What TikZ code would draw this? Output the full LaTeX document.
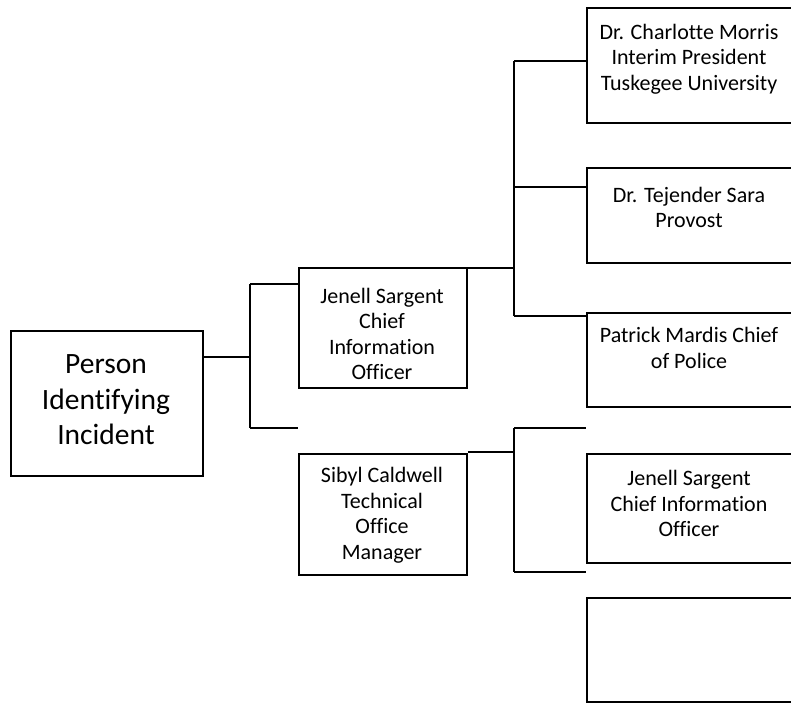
\documentclass[tikz,border=0pt]{standalone}
\usepackage{fontspec}
\setmainfont{Carlito}[Ligatures={NoCommon}]
\begin{document}
\begin{tikzpicture}[x=1pt,y=-1pt,
  box/.style={draw=black,line width=1.8pt,rectangle,inner sep=0pt,anchor=north west},
  txt/.style={align=center,inner sep=0pt,font=\fontsize{22}{25.5}\selectfont},
  bigtxt/.style={align=center,inner sep=0pt,font=\fontsize{29.5}{35.5}\selectfont},
  conn/.style={line width=1.8pt}]
\clip (0,0) rectangle (791,702);
\fill[white] (0,0) rectangle (791,702);
% boxes
\node[box,minimum width=192pt,minimum height=145pt] (P) at (10,330) {};
\node[box,minimum width=168pt,minimum height=120pt] (C) at (298,267) {};
\node[box,minimum width=168pt,minimum height=121pt] (S) at (298,453) {};
\node[box,minimum width=210pt,minimum height=115pt] (R1) at (586,7) {};
\node[box,minimum width=210pt,minimum height=95pt] (R2) at (586,167) {};
\node[box,minimum width=210pt,minimum height=94pt] (R3) at (586,312) {};
\node[box,minimum width=210pt,minimum height=109pt] (R4) at (586,453) {};
\node[box,minimum width=210pt,minimum height=104pt] (R5) at (586,597) {};
% texts
\node[bigtxt] (tP) at (106,400) {Person\\Identifying\\Incident};
\node[txt] (tC) at (382,334) {Jenell Sargent\\Chief\\Information\\Officer};
\node[txt] (tS) at (382,515) {Sibyl Caldwell\\Technical\\Office\\Manager};
\node[txt] (t1) at (689,59) {Dr. Charlotte Morris\\Interim President\\Tuskegee University};
\node[txt] (t2) at (689,207.5) {Dr. Tejender Sara\\Provost};
\node[txt] (t3) at (689,348) {Patrick Mardis Chief\\of Police};
\node[txt] (t4) at (689,503.5) {Jenell Sargent\\Chief Information\\Officer};
% junction coordinates
\coordinate (jA) at (250,357);
\coordinate (jA1) at (250,284);
\coordinate (jA2) at (250,428);
\coordinate (fA) at (298,428);
\coordinate (jB) at (514,268);
\coordinate (jB1) at (514,61);
\coordinate (jB2) at (514,187);
\coordinate (jB3) at (514,316);
\coordinate (jC) at (514,452);
\coordinate (jC1) at (514,428);
\coordinate (jC2) at (514,572);
\coordinate (fC1) at (586,428);
\coordinate (fC2) at (586,572);
% connectors
\draw[conn] (P.east |- jA) -- (jA);
\draw[conn] (jA1) -- (jA2);
\draw[conn] (jA1) -- (C.west |- jA1);
\draw[conn] (jA2) -- (fA);
\draw[conn] (C.east |- jB) -- (jB);
\draw[conn] (jB1) -- (jB3);
\draw[conn] (jB1) -- (R1.west |- jB1);
\draw[conn] (jB2) -- (R2.west |- jB2);
\draw[conn] (jB3) -- (R3.west |- jB3);
\draw[conn] (S.east |- jC) -- (jC);
\draw[conn] (jC1) -- (jC2);
\draw[conn] (jC1) -- (fC1);
\draw[conn] (jC2) -- (fC2);
\end{tikzpicture}
\end{document}
